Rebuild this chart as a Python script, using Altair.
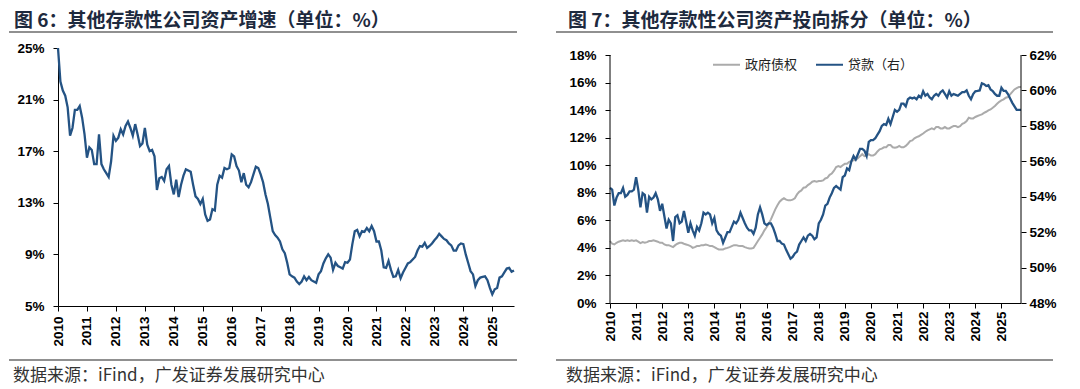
import altair as alt
import pandas as pd

START_YEAR = 2010
year_ticks = list(range(2010, 2026))

# Chart 6: other depository corporations, asset growth (%), monthly from Jan 2010
asset_growth = [
    25.0, 22.4, 21.7, 21.3, 20.4, 18.2, 18.8, 20.2, 20.2, 20.5, 19.6, 18.3,
    16.5, 17.3, 17.1, 16.0, 16.0, 18.3, 16.0, 15.6, 15.3, 15.0, 16.2, 18.2,
    17.8, 18.05, 18.7, 18.3, 18.95, 19.3, 18.8, 18.2, 19.1, 18.3, 17.4, 17.6,
    18.8, 17.5, 17.0, 17.1, 16.6, 14.0, 14.9, 15.0, 14.7, 15.6, 15.85, 14.4,
    13.65, 14.8, 13.45, 14.4, 15.1, 15.6, 15.5, 15.4, 14.4, 13.5, 13.3, 12.9,
    13.3, 12.1, 11.6, 11.7, 12.5, 12.4, 14.4, 15.1, 14.95, 15.7, 15.6, 15.7,
    16.75, 16.6, 15.85, 15.5, 14.6, 15.3, 14.4, 14.2, 14.6, 15.2, 15.8, 15.7,
    15.2, 14.6, 13.65, 12.9, 11.85, 10.8, 10.5, 10.3, 10.0, 9.4, 9.1, 8.35,
    7.45, 7.3, 7.2, 6.9, 6.7, 6.9, 7.3, 7.0, 7.25, 7.0, 6.9, 6.8,
    7.45, 7.7, 8.3, 8.7, 9.0, 8.75, 7.8, 8.35, 8.1, 8.0, 7.9, 8.4,
    8.35, 8.6, 9.8, 10.8, 10.9, 10.4, 10.8, 10.75, 11.05, 10.8, 11.2, 10.8,
    10.0, 10.0, 9.3, 8.0, 7.95, 8.5, 7.8, 7.25, 7.3, 7.8, 7.15, 7.6,
    7.95, 8.3, 8.4, 8.6, 8.8, 9.3, 9.65, 9.6, 9.9, 9.5, 9.65, 9.85,
    10.1, 10.3, 10.6, 10.4, 10.2, 10.1, 9.85, 9.7, 9.3, 9.3, 9.7, 9.85,
    9.8, 9.0, 8.35, 7.7, 7.45, 6.55, 7.0, 7.2, 7.25, 7.3, 7.0, 6.4,
    5.9, 6.3, 6.4, 7.2, 7.3, 7.6, 7.9, 7.95, 7.65, 7.75,
]

# Chart 7: share of claims on government (left axis, %)
gov_claims = [
    4.5, 4.3, 4.25, 4.37, 4.45, 4.5, 4.55, 4.5, 4.55, 4.5, 4.55, 4.5,
    4.55, 4.45, 4.35, 4.42, 4.37, 4.42, 4.5, 4.5, 4.55, 4.5, 4.45, 4.37,
    4.37, 4.25, 4.2, 4.2, 4.13, 4.06, 4.2, 4.3, 4.37, 4.37, 4.3, 4.25,
    4.2, 4.13, 4.0, 4.06, 4.13, 4.13, 4.2, 4.2, 4.25, 4.2, 4.13, 4.13,
    4.06, 3.96, 3.89, 3.89, 3.89, 3.96, 4.0, 4.06, 4.13, 4.2, 4.2, 4.16,
    4.13, 4.13, 4.06, 4.0, 3.96, 3.96, 4.0, 4.25, 4.5, 4.74, 4.98, 5.27,
    5.5, 5.75, 6.07, 6.43, 6.8, 7.1, 7.35, 7.5, 7.6, 7.5, 7.45, 7.45,
    7.5, 7.6, 7.88, 8.07, 8.17, 8.37, 8.4, 8.56, 8.66, 8.8, 8.85, 8.8,
    8.85, 8.85, 8.9, 9.04, 9.1, 9.3, 9.4, 9.6, 9.87, 9.94, 9.87, 10.0,
    10.1, 10.1, 10.25, 10.3, 10.35, 10.4, 10.5, 10.66, 10.8, 10.66, 10.7, 10.8,
    10.7, 10.7, 10.8, 11.0, 11.15, 11.2, 11.3, 11.3, 11.46, 11.46, 11.3, 11.27,
    11.3, 11.4, 11.3, 11.3, 11.4, 11.56, 11.75, 11.8, 11.95, 12.04, 12.1, 12.2,
    12.3, 12.43, 12.53, 12.6, 12.67, 12.6, 12.77, 12.77, 12.67, 12.67, 12.77, 12.67,
    12.67, 12.77, 12.84, 12.84, 12.77, 12.84, 13.0, 13.08, 13.2, 13.45, 13.4, 13.4,
    13.5, 13.57, 13.64, 13.69, 13.8, 13.88, 13.98, 14.05, 14.17, 14.3, 14.46, 14.6,
    14.7, 14.78, 14.9, 14.95, 15.14, 15.33, 15.5, 15.6, 15.67, 15.67,
]

# Chart 7: share of loans (right axis, %)
loans = [
    54.5, 54.4, 53.5, 53.95, 54.2, 54.2, 54.5, 54.0, 54.1, 54.3, 54.3, 54.4,
    55.1, 54.4, 53.4, 54.2, 54.1, 53.1, 54.0, 53.85, 53.95, 54.2, 53.85, 53.2,
    53.6, 52.9, 52.2, 52.7, 52.5, 51.5, 52.85, 52.95, 52.5, 52.6, 53.2, 52.6,
    51.97, 52.5, 52.1, 51.8, 52.3, 52.1, 52.5, 53.1, 53.0, 53.1, 53.0, 52.5,
    52.8, 52.1, 51.9, 51.8, 51.4, 51.7, 52.0, 52.0, 52.3, 52.6, 52.5, 52.7,
    53.1, 52.8, 52.5, 52.25, 52.1, 52.1, 51.9, 52.25, 53.0, 53.4, 53.0, 52.5,
    52.4, 52.5, 52.5, 52.25, 51.9, 51.5, 51.5, 51.35, 51.3, 51.0, 50.75, 50.5,
    50.6, 50.8, 50.9, 51.3, 51.5, 51.7, 51.5, 51.8, 51.9, 51.8, 51.6, 51.7,
    52.5, 52.7, 53.0, 53.5, 53.6, 53.95, 54.2, 54.5, 54.6, 54.5, 54.4, 55.1,
    55.2, 55.6, 55.5, 56.0, 56.3, 56.1, 56.4, 56.7, 56.7, 56.6, 56.3, 57.1,
    57.2, 57.2, 57.3, 57.5, 57.7, 58.0, 58.1, 58.05, 58.4, 58.1, 58.5, 58.9,
    58.8, 58.9, 59.25, 59.25, 59.1, 59.5, 59.6, 59.55, 59.6, 59.5, 59.7, 59.6,
    59.95, 59.7, 59.8, 59.6, 59.5, 59.7, 59.8, 59.7, 59.9, 60.0, 59.8, 59.6,
    59.95, 59.7, 59.8, 59.75, 59.7, 59.8, 59.9, 59.9, 60.0, 59.7, 59.5, 59.8,
    59.95, 59.97, 60.0, 60.4, 60.35, 60.25, 60.3, 60.06, 59.97, 59.8, 59.7, 59.7,
    60.15, 59.97, 59.97, 59.8, 59.55, 59.3, 59.1, 58.9, 58.9, 58.9,
]

series_names = ["政府债权", "贷款（右）"]
title_left = "图 6：其他存款性公司资产增速（单位：%）"
title_right = "图 7：其他存款性公司资产投向拆分（单位：%）"
source_text = "数据来源：iFind，广发证券发展研究中心"
left_ticks = [5, 9, 13, 17, 21, 25]
gov_ticks = list(range(0, 19, 2))
loan_ticks = list(range(48, 63, 2))

BLUE = "#245384"
GRAY = "#ABABAB"
DARK = "#1E2A3E"
CJK = "Noto Sans CJK SC"
LATIN = "Liberation Sans"


def month_axis(n):
    return [START_YEAR + i / 12 for i in range(n)]


df_left = pd.DataFrame({"t": month_axis(len(asset_growth)), "v": asset_growth})
df_right = pd.DataFrame({"t": month_axis(len(loans)), "gov": gov_claims, "loan": loans})
one = pd.DataFrame({"k": [0]})
x_end = START_YEAR + (len(loans) - 1) / 12


def x_enc(pad):
    return alt.X(
        "t:Q",
        scale=alt.Scale(domain=[START_YEAR, x_end], nice=False, zero=False),
        axis=alt.Axis(values=year_ticks, format="d", labelAngle=-90, title=None,
                      grid=False, tickSize=5, labelPadding=pad),
    )


def decor(title, tx, rx0, rx1, sx):
    base = alt.Chart(one)
    t = base.mark_text(text=title, align="left", baseline="middle", font=CJK,
                       fontSize=19, fontWeight="bold", color=DARK).encode(
        x=alt.value(tx), y=alt.value(-27.5))
    r1 = base.mark_rule(color="#222", strokeWidth=1.2).encode(
        x=alt.value(rx0), x2=alt.value(rx1), y=alt.value(-16))
    r2 = base.mark_rule(color="#222", strokeWidth=1.2).encode(
        x=alt.value(rx0), x2=alt.value(rx1), y=alt.value(312))
    s = base.mark_text(text=source_text, align="left", baseline="middle", font=CJK,
                       fontSize=17, color="#333").encode(
        x=alt.value(sx), y=alt.value(328))
    # white 1px anchors that fix the drawing's top and bottom extent
    a1 = base.mark_rule(color="#ffffff", strokeWidth=1).encode(
        x=alt.value(rx0), x2=alt.value(rx0 + 1), y=alt.value(-39))
    a2 = base.mark_rule(color="#ffffff", strokeWidth=1).encode(
        x=alt.value(rx0), x2=alt.value(rx0 + 1), y=alt.value(340))
    return [a1, a2, t, r1, r2, s]


# ---- left panel
W1, H1 = 456, 258
left_line = alt.Chart(df_left).mark_line(color=BLUE, strokeWidth=2.3).encode(
    x=x_enc(5),
    y=alt.Y("v:Q", scale=alt.Scale(domain=[5, 25], nice=False, zero=False),
            axis=alt.Axis(values=left_ticks, labelExpr="datum.value + '%'", title=None,
                          grid=False, tickSize=5, labelPadding=9)),
)
left = alt.layer(left_line, *decor(title_left, -44, -49, 459, -45)).properties(width=W1, height=H1)

# ---- right panel
W2, H2 = 411, 255
extra = H2 - 248
gov_top = 18 + extra * 18 / 248
loan_top = 62 + extra * 14 / 248
right_offset = W1 + 96  # right plot's origin, measured from the left plot's origin

color_scale = alt.Scale(domain=series_names, range=[GRAY, BLUE])
legend = alt.Legend(orient="none", legendX=right_offset + 102, legendY=2, direction="horizontal",
                    title=None, symbolType="stroke", symbolSize=729, symbolStrokeWidth=2,
                    labelFont=CJK, labelFontSize=13, labelColor="#222", labelOffset=4,
                    columnPadding=14, padding=0)

gov_line = alt.Chart(df_right).transform_calculate(series=f"'{series_names[0]}'").mark_line(strokeWidth=2).encode(
    x=x_enc(3),
    y=alt.Y("gov:Q", scale=alt.Scale(domain=[0, gov_top], nice=False, zero=False),
            axis=alt.Axis(values=gov_ticks, labelExpr="datum.value + '%'", title=None,
                          grid=False, tickSize=5, labelPadding=9, domain=False, orient="left")),
    color=alt.Color("series:N", scale=color_scale, legend=legend),
)
loan_line = alt.Chart(df_right).transform_calculate(series=f"'{series_names[1]}'").mark_line(strokeWidth=2.3).encode(
    x=x_enc(3),
    y=alt.Y("loan:Q", scale=alt.Scale(domain=[48, loan_top], nice=False, zero=False),
            axis=alt.Axis(values=loan_ticks, labelExpr="datum.value + '%'", title=None,
                          grid=False, tickSize=5, labelPadding=3, domain=False, orient="right")),
    color=alt.Color("series:N", scale=color_scale, legend=legend),
)
axis_lines = alt.Chart(one).mark_rule(color="#000", strokeWidth=1).encode(
    x=alt.value(0), y=alt.value(extra), y2=alt.value(H2))
axis_lines_r = alt.Chart(one).mark_rule(color="#000", strokeWidth=1).encode(
    x=alt.value(W2), y=alt.value(extra), y2=alt.value(H2))

right = alt.layer(gov_line, loan_line).resolve_scale(y="independent")
right = alt.layer(right, axis_lines, axis_lines_r,
                  *decor(title_right, -42, -54, 443, -44)).properties(width=W2, height=H2)

chart = alt.hconcat(left, right, spacing=96, bounds="flush").properties(padding=0).configure_view(
    stroke=None
).configure_axis(
    labelFont=LATIN, labelFontSize=13.5, labelFontWeight="bold", labelColor="#000",
    domainColor="#000", tickColor="#000", domainWidth=1, tickWidth=1,
)

chart.save("out.html", embed_options={"renderer": "svg", "actions": False})
